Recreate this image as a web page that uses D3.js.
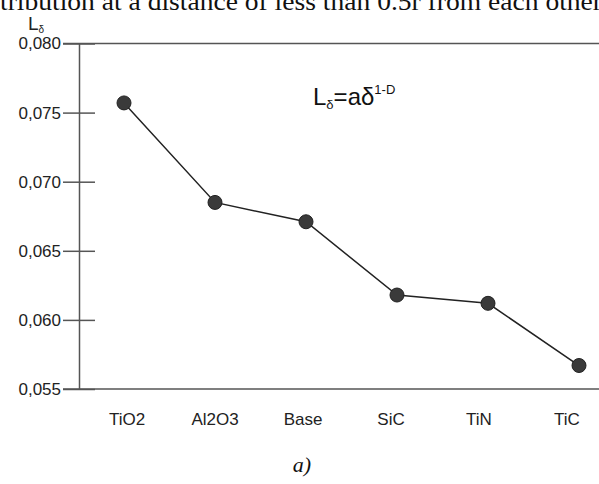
<!DOCTYPE html>
<html>
<head>
<meta charset="utf-8">
<script src="https://cdn.jsdelivr.net/npm/d3@7"></script>
<style>
  body { margin: 0; background: #fff; }
  svg { display: block; }
</style>
</head>
<body>
<div id="chart"></div>
<script>
var categories = ['TiO2', 'Al2O3', 'Base', 'SiC', 'TiN', 'TiC'];
var values = [0.0757, 0.0685, 0.0671, 0.0618, 0.0612, 0.0567];
var yTicks = [0.055, 0.060, 0.065, 0.070, 0.075, 0.080];

var width = 599;
var height = 484;

var svg = d3.select('#chart')
    .append('svg')
    .attr('width', width)
    .attr('height', height);

var y = d3.scaleLinear().domain([0.055, 0.080]).range([389, 43.5]);
var x = d3.scalePoint().domain(categories).range([124, 579]);
var xLabel = d3.scalePoint().domain(categories).range([127, 567]);

// cropped caption from the page above
svg.append('text')
    .attr('x', 0)
    .attr('y', 10)
    .attr('font-family', 'Liberation Serif')
    .attr('font-size', '25px')
    .attr('fill', '#111')
    .attr('textLength', 602)
    .attr('lengthAdjust', 'spacingAndGlyphs')
    .text('tribution at a distance of less than 0.5r from each other');

// y axis
var yAxis = svg.append('g')
    .attr('transform', 'translate(79,0)')
    .call(d3.axisLeft(y)
        .tickValues(yTicks)
        .tickSize(16)
        .tickSizeOuter(0)
        .tickPadding(2)
        .tickFormat(d => d3.format('.3f')(d).replace('.', ',')));

yAxis.select('.domain').attr('stroke', '#555').attr('stroke-width', 1.5);
yAxis.selectAll('.tick line')
    .attr('x1', 16)
    .attr('stroke', '#555')
    .attr('stroke-width', 1.5);
yAxis.selectAll('.tick text')
    .attr('font-family', 'Liberation Sans')
    .attr('font-size', '17px')
    .attr('fill', '#222');

// top and bottom frame lines
svg.selectAll('.frame')
    .data([0.080, 0.055])
    .enter()
    .append('line')
    .attr('class', 'frame')
    .attr('x1', 63)
    .attr('x2', width)
    .attr('y1', d => y(d))
    .attr('y2', d => y(d))
    .attr('stroke', '#555')
    .attr('stroke-width', 1.5);

// category labels
svg.selectAll('.xlabel')
    .data(categories)
    .enter()
    .append('text')
    .attr('class', 'xlabel')
    .attr('x', d => xLabel(d))
    .attr('y', 425)
    .attr('text-anchor', 'middle')
    .attr('font-family', 'Liberation Sans')
    .attr('font-size', '17px')
    .attr('fill', '#222')
    .text(d => d);

// axis title L_delta
var yTitle = svg.append('text')
    .attr('x', 28)
    .attr('y', 30)
    .attr('font-family', 'Liberation Sans')
    .attr('font-size', '19px')
    .attr('fill', '#222');
yTitle.append('tspan').text('L');
yTitle.append('tspan')
    .attr('font-size', '10px')
    .attr('dy', 3)
    .text('δ');

// line + points
var line = d3.line()
    .x((d, i) => x(categories[i]))
    .y(d => y(d));

svg.append('path')
    .datum(values)
    .attr('d', line)
    .attr('fill', 'none')
    .attr('stroke', '#222')
    .attr('stroke-width', 1.5);

svg.selectAll('.dot')
    .data(values)
    .enter()
    .append('circle')
    .attr('class', 'dot')
    .attr('cx', (d, i) => x(categories[i]))
    .attr('cy', d => y(d))
    .attr('r', 7)
    .attr('fill', '#3a3a3a')
    .attr('stroke', '#222')
    .attr('stroke-width', 1);

// formula
var formula = svg.append('text')
    .attr('x', 313)
    .attr('y', 105)
    .attr('font-family', 'Liberation Sans')
    .attr('font-size', '24px')
    .attr('fill', '#111');
formula.append('tspan').text('L');
formula.append('tspan').attr('font-size', '13px').attr('dy', 4).text('δ');
formula.append('tspan').attr('dy', -4).text('=aδ');
formula.append('tspan').attr('font-size', '13px').attr('dy', -11).text('1-D');

// panel label
svg.append('text')
    .attr('x', 302)
    .attr('y', 472)
    .attr('text-anchor', 'middle')
    .attr('font-family', 'Liberation Serif')
    .attr('font-style', 'italic')
    .attr('font-size', '22px')
    .attr('fill', '#111')
    .text('a)');
</script>
</body>
</html>
